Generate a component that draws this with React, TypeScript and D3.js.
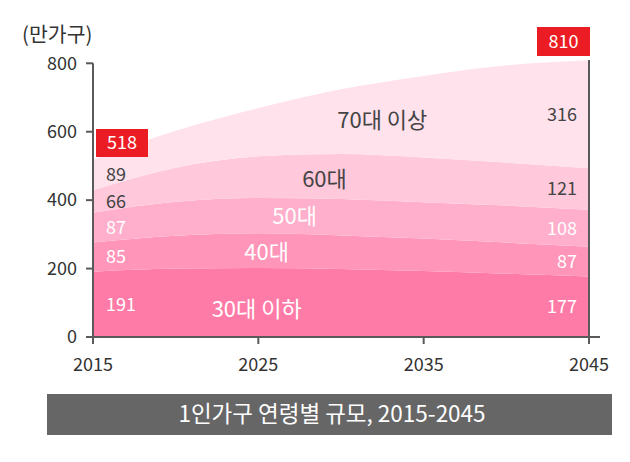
import React from "react";
import * as d3 from "d3";

const years = [2015, 2020, 2025, 2030, 2035, 2040, 2045];
const seriesNames = ["30대 이하", "40대", "50대", "60대", "70대 이상"];
const under30s = [191, 200, 202, 199, 193, 185, 177];
const age40s = [85, 96, 101, 98, 95, 91, 87];
const age50s = [87, 99, 103, 106, 106, 108, 108];
const age60s = [66, 100, 122, 132, 131, 126, 121];
const over70s = [89, 108, 141, 189, 238, 284, 316];
const totals = [518, 810];
const yTicks = [0, 200, 400, 600, 800];
const xTicks = [2015, 2025, 2035, 2045];
const colors = ["#ff7ba7", "#ff95b9", "#ffafcb", "#ffc8db", "#ffe2ec"];
const labelColors = ["#fff", "#fff", "#fff", "#444", "#444"];
const FONT = "'Noto Sans CJK KR', 'Noto Sans', sans-serif";

export default function App() {
  const x = d3.scaleLinear().domain([2015, 2045]).range([93, 589]);
  const y = d3.scaleLinear().domain([0, 800]).range([337, 63.3]);
  const seriesVals = [under30s, age40s, age50s, age60s, over70s];
  const rows = years.map((yr, i) => {
    const r: any = { year: yr };
    seriesNames.forEach((n, k) => (r[n] = seriesVals[k][i]));
    return r;
  });
  const stack = d3.stack().keys(seriesNames)(rows as any);
  const area = d3
    .area<any>()
    .x((d) => x(d.data.year))
    .y0((d) => y(d[0]))
    .y1((d) => y(d[1]))
    .curve(d3.curveMonotoneX);

  const last = years.length - 1;
  const nameLabels = [
    { year: 2024.9, v: 82 },
    { year: 2025.5, v: 249 },
    { year: 2027.2, v: 352 },
    { year: 2029.0, v: 460 },
    { year: 2032.5, v: 632 },
  ];
  const axisColor = "#5a5a5a";

  return (
    <svg width={630} height={462} style={{ position: "absolute", left: 0, top: 0 }} fontFamily={FONT}>
      <rect width={630} height={462} fill="#fff" />
      {stack.map((s, k) => (
        <path key={k} d={area(s as any) || ""} fill={colors[k]} />
      ))}
      <line x1={x(2015)} x2={x(2015)} y1={y(800)} y2={344} stroke={axisColor} strokeWidth={2} />
      <line x1={x(2045)} x2={x(2045)} y1={y(810)} y2={344} stroke={axisColor} strokeWidth={2} />
      <line x1={86} x2={600} y1={y(0)} y2={y(0)} stroke={axisColor} strokeWidth={2} />
      {yTicks.map((t) => (
        <g key={t}>
          <line x1={86} x2={x(2015)} y1={y(t)} y2={y(t)} stroke={axisColor} strokeWidth={2} />
          <text x={77} y={y(t)} dy="0.35em" textAnchor="end" fontSize={18} fill="#333">
            {t}
          </text>
        </g>
      ))}
      {xTicks.map((t) => (
        <g key={t}>
          <line x1={x(t)} x2={x(t)} y1={y(0)} y2={344} stroke={axisColor} strokeWidth={2} />
          <text x={x(t)} y={365} dy="0.35em" textAnchor="middle" fontSize={18} fill="#333">
            {t}
          </text>
        </g>
      ))}
      <text x={22} y={35} dy="0.35em" fontSize={20.5} fill="#333">
        (만가구)
      </text>
      {stack.map((s, k) => {
        const d = s[0];
        return (
          <text key={"l" + k} x={106} y={y((d[0] + d[1]) / 2)} dy="0.35em" fontSize={18} fill={labelColors[k]}>
            {seriesVals[k][0]}
          </text>
        );
      })}
      {stack.map((s, k) => {
        const d = s[last];
        return (
          <text key={"r" + k} x={577} y={y((d[0] + d[1]) / 2)} dy="0.35em" textAnchor="end" fontSize={18} fill={labelColors[k]}>
            {seriesVals[k][last]}
          </text>
        );
      })}
      {nameLabels.map((l, k) => (
        <text key={"n" + k} x={x(l.year)} y={y(l.v)} dy="0.35em" textAnchor="middle" fontSize={22} fill={labelColors[k]}>
          {seriesNames[k]}
        </text>
      ))}
      <rect x={96} y={129} width={52} height={28} fill="#ec1c24" />
      <text x={122} y={143} dy="0.35em" textAnchor="middle" fontSize={18} fill="#fff">
        {totals[0]}
      </text>
      <rect x={537} y={27} width={53} height={29} fill="#ec1c24" />
      <text x={563.5} y={41.5} dy="0.35em" textAnchor="middle" fontSize={18} fill="#fff">
        {totals[1]}
      </text>
      <rect x={47} y={394} width={565} height={41} fill="#666" />
      <text x={332} y={414.5} dy="0.35em" textAnchor="middle" fontSize={22.5} fill="#fff">
        1인가구 연령별 규모, 2015-2045
      </text>
    </svg>
  );
}
